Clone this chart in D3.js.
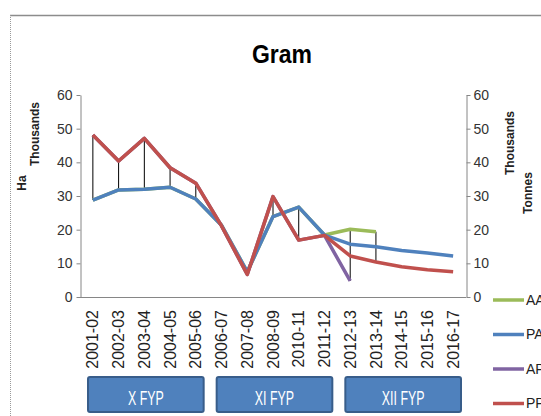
<!doctype HTML>
<html>
<head>
    <script src="https://d3js.org/d3.v7.min.js"></script>
    <style>
        body { margin: 0; background: #fff; }
        text { font-family: "Liberation Sans", Arial, sans-serif; }
    </style>
</head>
<body>
<script>
    // chart data (thousands)
    var categories = ["2001-02", "2002-03", "2003-04", "2004-05", "2005-06", "2006-07", "2007-08",
        "2008-09", "2010-11", "2011-12", "2012-13", "2013-14", "2014-15", "2015-16", "2016-17"];
    var seriesNames = ["AA", "PA", "AP", "PP"];
    var AA = [28.8, 31.8, 32.0, 32.6, 29.1, 21.3, 7.5, 23.9, 26.7, 18.4, 20.1, 19.4, null, null, null];
    var PA = [28.8, 31.8, 32.0, 32.6, 29.1, 21.3, 7.5, 23.9, 26.7, 18.4, 15.7, 14.9, 13.8, 13.1, 12.2];
    var AP = [48.1, 40.4, 47.1, 38.4, 33.8, 21.1, 6.7, 29.8, 16.9, 18.3, 4.8, null, null, null, null];
    var PP = [48.1, 40.4, 47.1, 38.4, 33.8, 21.1, 6.7, 29.8, 16.9, 18.3, 12.2, 10.4, 9.0, 8.1, 7.5];
    var yTicks = [0, 10, 20, 30, 40, 50, 60];
    var plans = ["X FYP", "XI FYP", "XII FYP"];
    var planFirst = ["2001-02", "2006-07", "2012-13"];
    var planLast = ["2005-06", "2011-12", "2016-17"];

    var colors = { AA: "#9bbb59", PA: "#4f81bd", AP: "#8064a2", PP: "#c0504d" };
    var values = { AA: AA, PA: PA, AP: AP, PP: PP };

    var canvasWidth = 541;
    var canvasHeight = 416;

    var svg = d3.select("body").append("svg")
        .attr("width", canvasWidth)
        .attr("height", canvasHeight);

    // chart border (top + dotted left)
    svg.append("line")
        .attr("x1", 10).attr("x2", canvasWidth).attr("y1", 15.5).attr("y2", 15.5)
        .attr("stroke", "#8c8c8c").attr("stroke-width", 1.5);
    svg.append("line")
        .attr("x1", 10.5).attr("x2", 10.5).attr("y1", 15).attr("y2", canvasHeight)
        .attr("stroke", "#9a9a9a").attr("stroke-dasharray", "1,1");

    svg.append("text")
        .attr("x", 282)
        .attr("y", 63)
        .attr("text-anchor", "middle")
        .attr("font-size", "26px")
        .attr("font-weight", "bold")
        .attr("textLength", 60)
        .attr("lengthAdjust", "spacingAndGlyphs")
        .text("Gram");

    var xScale = d3.scaleBand().domain(categories).range([80, 466]);
    var yScale = d3.scaleLinear().domain([0, 60]).range([297, 95]);
    var cx = function(c) { return xScale(c) + xScale.bandwidth() / 2; };

    // left axis
    var leftAxis = svg.append("g")
        .attr("transform", "translate(80.5,0)")
        .call(d3.axisLeft(yScale).tickValues(yTicks).tickSize(4).tickSizeOuter(0));
    // right axis
    var rightAxis = svg.append("g")
        .attr("transform", "translate(466.5,0)")
        .call(d3.axisRight(yScale).tickValues(yTicks).tickSize(4).tickSizeOuter(0));
    [leftAxis, rightAxis].forEach(function(a) {
        a.select(".domain").attr("stroke", "#868686");
        a.selectAll(".tick line").attr("stroke", "#868686");
        a.selectAll(".tick text")
            .attr("font-size", "14px")
            .attr("font-family", "Liberation Sans, Arial, sans-serif")
            .attr("fill", "#333");
    });
    leftAxis.selectAll(".tick text").attr("x", -8);
    rightAxis.selectAll(".tick text").attr("x", 7);

    // x axis line + labels
    svg.append("line")
        .attr("x1", 80).attr("x2", 466)
        .attr("y1", yScale(0) + 0.5).attr("y2", yScale(0) + 0.5)
        .attr("stroke", "#868686");

    svg.selectAll(".xlabel")
        .data(categories)
        .enter().append("text")
        .attr("class", "xlabel")
        .attr("transform", function(d) { return "translate(" + cx(d) + ",310) rotate(-90)"; })
        .attr("dy", "0.35em")
        .attr("text-anchor", "end")
        .attr("font-size", "16px")
        .attr("fill", "#222")
        .text(function(d) { return d; });

    // axis titles
    var axisTitle = function(txt, x, y) {
        svg.append("text")
            .attr("transform", "translate(" + x + "," + y + ") rotate(-90)")
            .attr("dy", "0.35em")
            .attr("text-anchor", "middle")
            .attr("font-size", "12px")
            .attr("font-weight", "bold")
            .attr("fill", "#222")
            .text(txt);
    };
    axisTitle("Ha", 22, 183);
    axisTitle("Thousands", 35, 134);
    axisTitle("Thousands", 510, 143);
    axisTitle("Tonnes", 528, 193);

    // high-low lines where the actual series exist
    var hl = [];
    categories.forEach(function(c, i) {
        if (AA[i] == null) return;
        var v = seriesNames.map(function(s) { return values[s][i]; })
            .filter(function(d) { return d != null; });
        hl.push({ c: c, hi: d3.max(v), lo: d3.min(v) });
    });
    svg.selectAll(".hilo")
        .data(hl)
        .enter().append("line")
        .attr("class", "hilo")
        .attr("x1", function(d) { return cx(d.c); })
        .attr("x2", function(d) { return cx(d.c); })
        .attr("y1", function(d) { return yScale(d.hi); })
        .attr("y2", function(d) { return yScale(d.lo); })
        .attr("stroke", "#000")
        .attr("stroke-width", 1);

    // series lines
    var line = d3.line()
        .defined(function(d) { return d.v != null; })
        .x(function(d) { return cx(d.c); })
        .y(function(d) { return yScale(d.v); });

    seriesNames.forEach(function(s) {
        var pts = categories.map(function(c, i) { return { c: c, v: values[s][i] }; });
        svg.append("path")
            .datum(pts)
            .attr("d", line)
            .attr("fill", "none")
            .attr("stroke", colors[s])
            .attr("stroke-width", 3.5)
            .attr("stroke-linejoin", "round");
    });

    // legend
    var legend = svg.selectAll(".legend")
        .data(seriesNames)
        .enter().append("g")
        .attr("class", "legend")
        .attr("transform", function(d, i) { return "translate(493," + (300 + i * 34.5) + ")"; });
    legend.append("line")
        .attr("x1", 0).attr("x2", 31)
        .attr("stroke", function(d) { return colors[d]; })
        .attr("stroke-width", 3.5);
    legend.append("text")
        .attr("x", 33)
        .attr("dy", "0.35em")
        .attr("font-size", "14px")
        .attr("fill", "#222")
        .text(function(d) { return d; });

    // plan period boxes
    var boxes = svg.selectAll(".plan")
        .data(plans)
        .enter().append("g")
        .attr("class", "plan");
    boxes.append("rect")
        .attr("x", function(d, i) { return xScale(planFirst[i]) + 8; })
        .attr("width", function(d, i) { return xScale(planLast[i]) + xScale.bandwidth() - 5 - xScale(planFirst[i]) - 8; })
        .attr("y", 377)
        .attr("height", 35)
        .attr("rx", 2)
        .attr("fill", "#4f81bd")
        .attr("stroke", "#385d8a")
        .attr("stroke-width", 2);
    boxes.append("text")
        .attr("x", function(d, i) { return (xScale(planFirst[i]) + 8 + xScale(planLast[i]) + xScale.bandwidth() - 5) / 2; })
        .attr("y", 405)
        .attr("text-anchor", "middle")
        .attr("font-size", "20px")
        .attr("fill", "#fff")
        .text(function(d) { return d; })
        .each(function() {
            var w = this.getComputedTextLength();
            d3.select(this).attr("textLength", w * 0.62).attr("lengthAdjust", "spacingAndGlyphs");
        });
</script>
</body>
</html>
